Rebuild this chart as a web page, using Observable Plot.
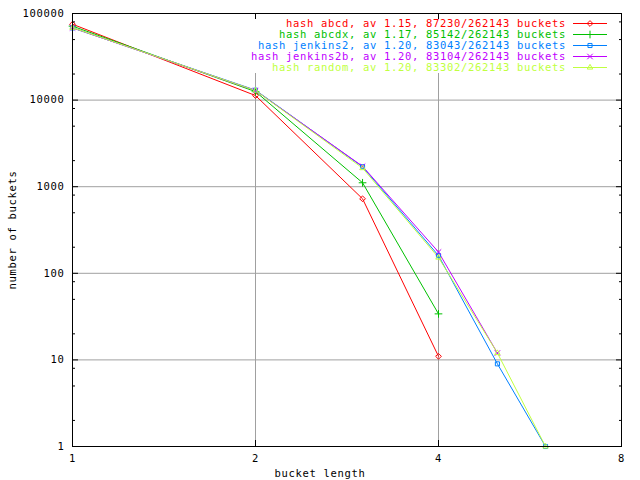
<!DOCTYPE html>
<html><head><meta charset="utf-8">
<script src="https://cdn.jsdelivr.net/npm/d3@7"></script>
<script src="https://cdn.jsdelivr.net/npm/@observablehq/plot@0.6"></script>
<style>
html,body{margin:0;padding:0;background:#fff;}
#wrap{position:relative;width:640px;height:480px;font-family:"DejaVu Sans Mono",monospace;font-size:10.5px;letter-spacing:0.68px;}
#wrap svg{display:block}
.lbl{position:absolute;white-space:nowrap;color:#000;line-height:1;}
</style></head><body>
<div id="wrap"></div>
<script>
// ---- data ----
const bucketLength = [1, 2, 3, 4, 5, 6];
const seriesKeys = ["abcd", "abcdx", "jenkins2", "jenkins2b", "random"];
const seriesLabels = [
  "hash abcd, av 1.15, 87230/262143 buckets",
  "hash abcdx, av 1.17, 85142/262143 buckets",
  "hash jenkins2, av 1.20, 83043/262143 buckets",
  "hash jenkins2b, av 1.20, 83104/262143 buckets",
  "hash random, av 1.20, 83302/262143 buckets"
];
const abcd      = [75207, 11287, 725, 11];
const abcdx     = [71462, 12536, 1110, 34];
const jenkins2  = [68137, 13036, 1700, 160, 9, 1];
const jenkins2b = [68316, 12880, 1720, 176, 12];
const random    = [68588, 12909, 1640, 152, 12, 1];
const xTicks = [1, 2, 4, 8];
const yTicks = [1, 10, 100, 1000, 10000, 100000];
const yMinorTicks = [2, 5, 8, 20, 50, 80, 200, 500, 800, 2000, 5000, 8000, 20000, 50000, 80000];
const xGrid = [2, 4];
const yGrid = [10, 100, 1000, 10000];

// ---- styles ----
const colors = ["#ff0000", "#00c000", "#0080ff", "#c000ff", "#c0ff40"];
const symbols = ["diamond2", "plus", "square2", "times", "triangle2"];
const d3symbols = [d3.symbolDiamond2, d3.symbolPlus, d3.symbolSquare2, d3.symbolTimes, d3.symbolTriangle2];

const allSeries = [abcd, abcdx, jenkins2, jenkins2b, random];
const rows = [];
allSeries.forEach((vals, i) => vals.forEach((v, j) => rows.push({series: seriesKeys[i], x: bucketLength[j], y: v})));

const grid = "#a0a0a0";
const chart = Plot.plot({
  width: 640, height: 480,
  marginLeft: 72, marginRight: 19, marginTop: 13, marginBottom: 34,
  style: {fontFamily: "DejaVu Sans Mono, monospace", fontSize: "10.5px", letterSpacing: "0.68px", background: "white", color: "black", overflow: "visible"},
  x: {type: "log", base: 2, domain: [1, 8]},
  y: {type: "log", domain: [1, 100000]},
  color: {domain: seriesKeys, range: colors},
  symbol: {domain: seriesKeys, range: symbols},
  marks: [
    Plot.ruleY(yGrid, {stroke: grid, strokeWidth: 1}),
    Plot.ruleX(xGrid, {stroke: grid, strokeWidth: 1}),
    Plot.line(rows, {x: "x", y: "y", z: "series", stroke: "series", strokeWidth: 1}),
    Plot.dot(rows, {x: "x", y: "y", symbol: "series", stroke: "series", r: 2.6, strokeWidth: 1}),
    Plot.frame({stroke: "black", strokeWidth: 1}),
    Plot.axisY({anchor: "left", ticks: yTicks, tickSize: 0, tickPadding: 8, tickFormat: d => String(d), label: null, fill: "black"}),
    Plot.axisY({anchor: "left", ticks: yTicks, tickSize: -6, text: null, label: null}),
    Plot.axisY({anchor: "left", ticks: yMinorTicks, tickSize: -3, text: null, label: null}),
    Plot.axisY({anchor: "right", ticks: yTicks, tickSize: -6, text: null, label: null}),
    Plot.axisY({anchor: "right", ticks: yMinorTicks, tickSize: -3, text: null, label: null}),
    Plot.axisX({anchor: "bottom", ticks: xTicks, tickSize: 0, tickPadding: 8, tickFormat: d => String(d), label: null}),
    Plot.axisX({anchor: "bottom", ticks: xTicks, tickSize: -6, text: null, label: null}),
    Plot.axisX({anchor: "top", ticks: xTicks, tickSize: -6, text: null, label: null})
  ]
});
const wrap = document.getElementById("wrap");
wrap.appendChild(chart);

// axis titles
const xl = document.createElement("div");
xl.className = "lbl"; xl.textContent = "bucket length";
xl.style.left = "320px"; xl.style.top = "473px"; xl.style.transform = "translate(-50%,-50%)";
wrap.appendChild(xl);
const yl = document.createElement("div");
yl.className = "lbl"; yl.textContent = "number of buckets";
yl.style.left = "12px"; yl.style.top = "230px"; yl.style.transform = "translate(-50%,-50%) rotate(-90deg)";
wrap.appendChild(yl);

// legend (key)
const key = d3.select(wrap).append("svg")
  .attr("width", 640).attr("height", 80)
  .style("position", "absolute").style("left", "0px").style("top", "0px")
  .style("font-family", "DejaVu Sans Mono, monospace").style("font-size", "10.5px").style("letter-spacing", "0.68px");
key.append("rect").attr("x", 245).attr("y", 19).attr("width", 369).attr("height", 54).attr("fill", "white");
seriesLabels.forEach((lab, i) => {
  const cy = 23.5 + i * 11;
  key.append("text").attr("x", 566).attr("y", cy).attr("dy", "0.35em")
    .attr("text-anchor", "end").attr("fill", colors[i]).text(lab);
  key.append("line").attr("x1", 573).attr("x2", 607).attr("y1", cy).attr("y2", cy)
    .attr("stroke", colors[i]).attr("stroke-width", 1);
  key.append("path").attr("transform", `translate(590,${cy})`)
    .attr("d", d3.symbol(d3symbols[i], 2.6 * 2.6 * Math.PI)())
    .attr("fill", "none").attr("stroke", colors[i]).attr("stroke-width", 1);
});
</script>
</body></html>
